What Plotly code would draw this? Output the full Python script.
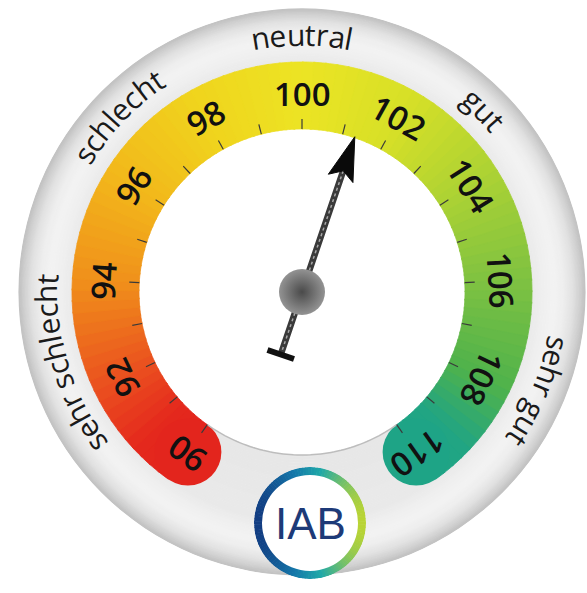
import numpy as np
import plotly.graph_objects as go

# ---------------- data ----------------
scale_min = 90
scale_max = 110
major_tick_values = [90, 92, 94, 96, 98, 100, 102, 104, 106, 108, 110]
major_tick_labels = ["90", "92", "94", "96", "98", "100", "102", "104", "106", "108", "110"]
minor_tick_values = list(range(90, 111))
needle_value = 101.3

zone_labels = ["sehr schlecht", "schlecht", "neutral", "gut", "sehr gut"]
zone_label_values = [92.6, 96.8, 100.0, 103.1, 107.8]

color_stop_values = [90, 90.8, 92, 94, 96, 98, 100, 102, 104, 106, 108, 109.2, 110]
color_stop_colors = ["#e3241d", "#e4291d", "#ea4f1f", "#f0901b", "#f2b81b", "#f0d41d", "#ece424",
                     "#d7e027", "#acd234", "#7fc241", "#4fb24b", "#22a582", "#1ea487"]

logo_text = "IAB"

# ---------------- geometry / style ----------------
W, H = 587, 593
CX, CY = 302, 292          # gauge centre (px, from top-left)
R_OUT = 284                # outer grey ring
R_BAND_IN, R_BAND_OUT = 163, 230
DEG_PER_UNIT = 14.45
LOGO_CX, LOGO_CY, LOGO_R = 310, 523, 56


def theta(v):
    return (v - 100.0) * DEG_PER_UNIT


def hex2rgb(h):
    h = h.lstrip("#")
    return [int(h[i:i + 2], 16) for i in (0, 2, 4)]


def interp_color(v, xs, cols):
    rgbs = np.array([hex2rgb(c) for c in cols], dtype=float)
    r = np.interp(v, xs, rgbs[:, 0])
    g = np.interp(v, xs, rgbs[:, 1])
    b = np.interp(v, xs, rgbs[:, 2])
    return "rgb(%d,%d,%d)" % (round(r), round(g), round(b))


fig = go.Figure()

# ---- grey ring (radial shading) ----
gray_r = [163, 230, 240, 252, 262, 271, 278, 284]
gray_v = [231, 234, 239, 243, 238, 225, 208, 190]
ring_edges = np.arange(163, 284.01, 1.5)
ring_base, ring_len, ring_col = [], [], []
for a, b in zip(ring_edges[:-1], ring_edges[1:]):
    g = np.interp((a + b) / 2, gray_r, gray_v)
    ring_base.append(a)
    ring_len.append(b - a + 0.6)
    ring_col.append("rgb(%d,%d,%d)" % (g, g, g))
fig.add_trace(go.Barpolar(r=ring_len, base=ring_base, theta=[0] * len(ring_len),
                          width=[360] * len(ring_len), marker_color=ring_col,
                          marker_line_width=0, hoverinfo="skip", subplot="polar"))
# white face
fig.add_trace(go.Barpolar(r=[R_BAND_IN], base=[0], theta=[0], width=[360],
                          marker_color="white", marker_line_width=0,
                          hoverinfo="skip", subplot="polar"))

# ---- coloured band: filled annular segments ----
step = 0.2
seg_starts = np.arange(scale_min, scale_max - 1e-9, step)
for v0 in seg_starts:
    v1 = min(v0 + step + 0.03, scale_max)
    vv = np.linspace(v0, v1, 4)
    col = interp_color(v0 + step / 2, color_stop_values, color_stop_colors)
    rr = [R_BAND_OUT] * 4 + [R_BAND_IN] * 4 + [R_BAND_OUT]
    th = [theta(v) for v in vv] + [theta(v) for v in vv[::-1]] + [theta(vv[0])]
    fig.add_trace(go.Scatterpolar(r=rr, theta=th, mode="lines", fill="toself",
                                  fillcolor=col, line=dict(color=col, width=0.8),
                                  hoverinfo="skip", subplot="polar"))

# rounded caps
r_mid = (R_BAND_IN + R_BAND_OUT) / 2
fig.add_trace(go.Scatterpolar(
    r=[r_mid, r_mid], theta=[theta(scale_min), theta(scale_max)], mode="markers",
    marker=dict(size=R_BAND_OUT - R_BAND_IN,
                color=[interp_color(scale_min + 0.1, color_stop_values, color_stop_colors),
                       interp_color(scale_max - 0.1, color_stop_values, color_stop_colors)],
                line_width=0),
    hoverinfo="skip", subplot="polar"))

# faint edge of the white face in the gap
gap = np.linspace(theta(scale_max), theta(scale_min) + 360, 60)
fig.add_trace(go.Scatterpolar(r=[R_BAND_IN] * len(gap), theta=gap, mode="lines",
                              line=dict(color="#bdbdbd", width=1.5), hoverinfo="skip",
                              subplot="polar"))

# ticks
tr, tt = [], []
for v in minor_tick_values:
    tr += [R_BAND_IN, R_BAND_IN + 10, None]
    tt += [theta(v), theta(v), None]
fig.add_trace(go.Scatterpolar(r=tr, theta=tt, mode="lines",
                              line=dict(color="#3a3a3a", width=1.2), hoverinfo="skip",
                              subplot="polar"))

# ---- needle ----
tn = theta(needle_value)
tail = 66
fig.add_trace(go.Scatterpolar(r=[128, 0, tail], theta=[tn, tn, tn + 180], mode="lines",
                              line=dict(color="#3a3a3a", width=6.5), hoverinfo="skip",
                              subplot="polar"))
fig.add_trace(go.Scatterpolar(r=[128, 0, tail], theta=[tn, tn, tn + 180], mode="lines",
                              line=dict(color="#a8a8a8", width=1.5, dash="dot"),
                              hoverinfo="skip", subplot="polar"))
half_t = 14
fig.add_trace(go.Scatterpolar(
    r=[np.hypot(tail, half_t), np.hypot(tail, half_t)],
    theta=[tn + 180 + np.degrees(np.arctan2(half_t, tail)), tn + 180 - np.degrees(np.arctan2(half_t, tail))],
    mode="lines", line=dict(color="#111111", width=6), hoverinfo="skip", subplot="polar"))
tip_r = R_BAND_IN + 1
base_d, half_w, notch = 44, 13, 36
cr = np.hypot(tip_r - base_d, half_w)
ca = np.degrees(np.arctan2(half_w, tip_r - base_d))
fig.add_trace(go.Scatterpolar(
    r=[tip_r, cr, tip_r - notch, cr, tip_r],
    theta=[tn, tn - ca, tn, tn + ca, tn],
    mode="lines", fill="toself", fillcolor="#0a0a0a", line=dict(color="#0a0a0a", width=1),
    hoverinfo="skip", subplot="polar"))
# pivot ball
fig.add_trace(go.Scatterpolar(
    r=[0], theta=[0], mode="markers",
    marker=dict(size=46, color="#939393", gradient=dict(type="radial", color="#4a4a4a"),
                line=dict(width=0)),
    hoverinfo="skip", subplot="polar"))

# ---- logo ring (second polar) ----
lt = np.arange(0, 360, 3)
lcols = [interp_color(np.sin(np.radians(a)), [-1, -0.3, 0.2, 1],
                      ["#123d82", "#1478aa", "#1fa8a8", "#b9d435"]) for a in lt]
fig.add_trace(go.Barpolar(r=[LOGO_R] * len(lt), base=[0] * len(lt), theta=lt,
                          width=[3.6] * len(lt), marker_color=lcols, marker_line_width=0,
                          hoverinfo="skip", subplot="polar2"))
fig.add_trace(go.Barpolar(r=[LOGO_R - 8], base=[0], theta=[0], width=[360],
                          marker_color="white", marker_line_width=0,
                          hoverinfo="skip", subplot="polar2"))

# invisible cartesian overlay (1 unit = 1 px, origin at gauge centre) for rotated text
fig.add_trace(go.Scatter(x=[0], y=[0], mode="markers", marker_opacity=0, hoverinfo="skip",
                         showlegend=False))

annotations = []
# scale numbers
for v, lab in zip(major_tick_values, major_tick_labels):
    t = theta(v)
    rr = 199
    annotations.append(dict(x=rr * np.sin(np.radians(t)), y=rr * np.cos(np.radians(t)),
                            xref="x", yref="y", text=lab, showarrow=False,
                            textangle=t, xanchor="center", yanchor="middle",
                            font=dict(family="Open Sans", size=33, color="#111111", weight=600)))

# curved zone words, letter by letter
cw = {"a": 0.556, "c": 0.479, "e": 0.549, "g": 0.55, "h": 0.613, "l": 0.258, "n": 0.613,
      "r": 0.407, "s": 0.455, "t": 0.349, "u": 0.613, " ": 0.26}
fs = 30
word_radii = [256, 258, 258, 258, 261]
for word, v, r_word in zip(zone_labels, zone_label_values, word_radii):
    widths = [cw.get(ch, 0.55) * fs * 1.03 for ch in word]
    total = sum(widths)
    pos = -total / 2
    tc = theta(v)
    for ch, w in zip(word, widths):
        s = pos + w / 2
        pos += w
        if ch == " ":
            continue
        t = tc + np.degrees(s / r_word)
        annotations.append(dict(x=r_word * np.sin(np.radians(t)), y=r_word * np.cos(np.radians(t)),
                                xref="x", yref="y", text=ch, showarrow=False, textangle=t,
                                xanchor="center", yanchor="middle",
                                font=dict(family="Open Sans", size=fs, color="#1a1a1a")))

annotations.append(dict(x=LOGO_CX - CX, y=CY - LOGO_CY, xref="x", yref="y", text=logo_text,
                        showarrow=False, xanchor="center", yanchor="middle",
                        font=dict(family="Liberation Sans", size=44, color="#1d3a78")))

fig.update_layout(
    width=W, height=H, margin=dict(l=0, r=0, t=0, b=0),
    paper_bgcolor="white", plot_bgcolor="rgba(0,0,0,0)", showlegend=False,
    xaxis=dict(range=[-CX, W - CX], visible=False, domain=[0, 1], fixedrange=True),
    yaxis=dict(range=[-(H - CY), CY], visible=False, domain=[0, 1], fixedrange=True),
    polar=dict(
        domain=dict(x=[(CX - R_OUT) / W, (CX + R_OUT) / W],
                    y=[(H - CY - R_OUT) / H, (H - CY + R_OUT) / H]),
        bgcolor="rgba(0,0,0,0)", barmode="overlay",
        radialaxis=dict(range=[0, R_OUT], visible=False, showgrid=False),
        angularaxis=dict(rotation=90, direction="clockwise", visible=False, showgrid=False),
    ),
    polar2=dict(
        domain=dict(x=[(LOGO_CX - LOGO_R) / W, (LOGO_CX + LOGO_R) / W],
                    y=[(H - LOGO_CY - LOGO_R) / H, (H - LOGO_CY + LOGO_R) / H]),
        bgcolor="rgba(0,0,0,0)", barmode="overlay",
        radialaxis=dict(range=[0, LOGO_R], visible=False, showgrid=False),
        angularaxis=dict(rotation=90, direction="clockwise", visible=False, showgrid=False),
    ),
    annotations=annotations,
)

fig.write_html("out.html", config={"displayModeBar": False},
               post_script="document.body.style.margin='0px';")
